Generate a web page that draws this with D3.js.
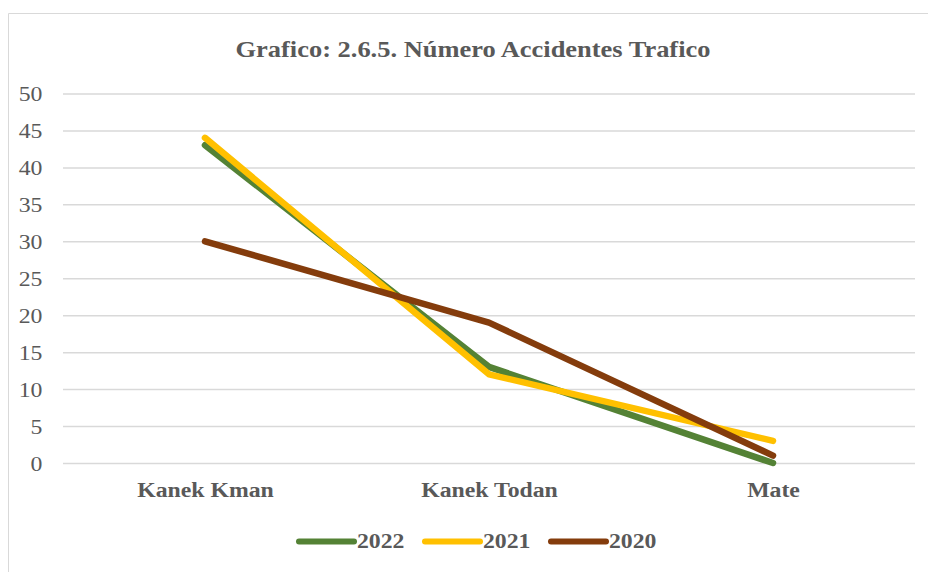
<!DOCTYPE html>
<html>
<head>
<meta charset="utf-8">
<script src="https://cdn.jsdelivr.net/npm/d3@7"></script>
<style>
  body { margin: 0; background: #fff; }
  text { font-family: "Liberation Serif", "Times New Roman", serif; }
</style>
</head>
<body>
<script>
var categories = ["Kanek Kman", "Kanek Todan", "Mate"],
    seriesNames = ["2022", "2021", "2020"],
    values2022 = [43, 13, 0],
    values2021 = [44, 12, 3],
    values2020 = [30, 19, 1],
    yTicks = [0, 5, 10, 15, 20, 25, 30, 35, 40, 45, 50];

var colors = {"2022": "#548235", "2021": "#ffc000", "2020": "#843c0c"};
var series = [
  {name: "2022", values: values2022},
  {name: "2021", values: values2021},
  {name: "2020", values: values2020}
];

var width = 928, height = 572,
    plotLeft = 63, plotRight = 915, plotTop = 93.5, plotBottom = 463,
    textGray = "#595959",
    stretch = "scale(1.08,1)";

var svg = d3.select("body").append("svg")
  .attr("width", width)
  .attr("height", height);

// chart frame
svg.append("path")
  .attr("d", "M8.5,572 L8.5,13.5 L928,13.5")
  .attr("fill", "none")
  .attr("stroke", "#d9d9d9")
  .attr("stroke-width", 1);

svg.append("g")
  .attr("transform", "translate(473,57)")
  .append("text")
  .attr("transform", "scale(1.15,1)")
  .attr("text-anchor", "middle")
  .attr("font-size", 23)
  .attr("font-weight", "bold")
  .attr("fill", textGray)
  .text("Grafico: 2.6.5. Número Accidentes Trafico");

var x = d3.scalePoint()
  .domain(categories)
  .range([plotLeft, plotRight])
  .padding(0.5);

var y = d3.scaleLinear()
  .domain([0, 50])
  .range([plotBottom, plotTop]);

var yAxis = svg.append("g")
  .attr("transform", "translate(" + plotLeft + ",0)")
  .call(d3.axisLeft(y).tickValues(yTicks).tickSize(-(plotRight - plotLeft)).tickPadding(19));

yAxis.select(".domain").remove();
yAxis.selectAll(".tick line")
  .attr("stroke", "#d9d9d9")
  .attr("stroke-width", 1.5);
yAxis.selectAll(".tick text")
  .attr("transform", stretch)
  .attr("font-size", 22)
  .attr("font-family", "Liberation Serif, serif")
  .attr("fill", textGray);

var xAxis = svg.append("g")
  .attr("transform", "translate(0," + plotBottom + ")")
  .call(d3.axisBottom(x).tickSize(0).tickPadding(18));

xAxis.select(".domain").remove();
xAxis.selectAll(".tick text")
  .attr("transform", stretch)
  .attr("font-size", 22)
  .attr("font-weight", "bold")
  .attr("font-family", "Liberation Serif, serif")
  .attr("fill", textGray);

var line = d3.line()
  .x(function(d, i) { return x(categories[i]); })
  .y(function(d) { return y(d); });

svg.selectAll(".series")
  .data(series)
  .enter().append("path")
  .attr("class", "series")
  .attr("d", function(d) { return line(d.values); })
  .attr("fill", "none")
  .attr("stroke", function(d) { return colors[d.name]; })
  .attr("stroke-width", 6.5)
  .attr("stroke-linecap", "round")
  .attr("stroke-linejoin", "round");

// legend
var legend = svg.selectAll(".legend")
  .data(seriesNames)
  .enter().append("g")
  .attr("class", "legend")
  .attr("transform", function(d, i) { return "translate(" + (299 + i * 126) + ",541.5)"; });

legend.append("line")
  .attr("x1", 0)
  .attr("x2", 55)
  .attr("stroke", function(d) { return colors[d]; })
  .attr("stroke-width", 6)
  .attr("stroke-linecap", "round");

legend.append("text")
  .attr("transform", "translate(58,6) " + stretch)
  .attr("font-size", 22)
  .attr("font-weight", "bold")
  .attr("fill", textGray)
  .text(function(d) { return d; });
</script>
</body>
</html>
